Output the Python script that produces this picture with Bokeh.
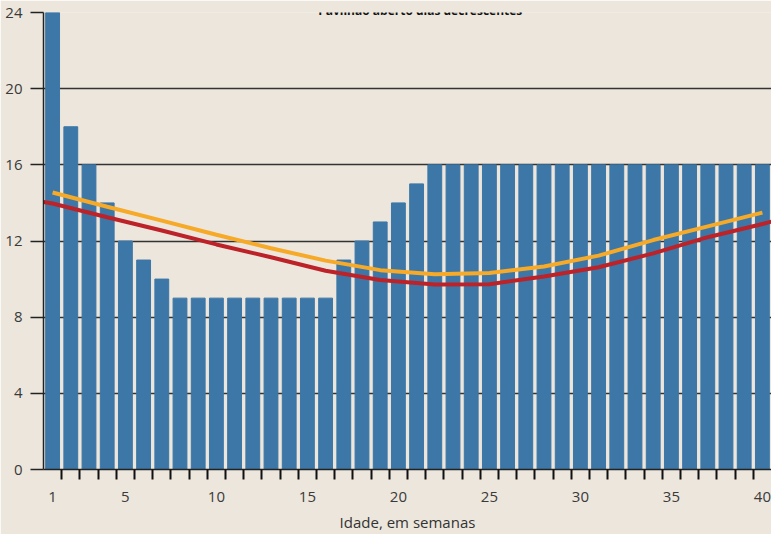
from bokeh.plotting import figure
from bokeh.models import FixedTicker, Label
from bokeh.embed import file_html
from bokeh.resources import INLINE

# ---- data ----
weeks = list(range(1, 41))
birds = [24, 18, 16, 14, 12, 11, 10, 9, 9, 9, 9, 9, 9, 9, 9, 9,
         11, 12, 13, 14, 15, 16, 16, 16, 16, 16, 16, 16, 16, 16,
         16, 16, 16, 16, 16, 16, 16, 16, 16, 16]

orange_x = [1, 4, 7, 10, 13, 16, 19, 22, 25, 28, 31, 34, 37, 40]
orange_y = [14.55, 13.80, 13.07, 12.33, 11.62, 10.97, 10.47, 10.26, 10.32,
            10.66, 11.23, 12.05, 12.77, 13.49]

red_x = [0.5, 1, 4, 7, 10, 13, 16, 19, 22, 25, 28, 31, 34, 37, 40, 40.5]
red_y = [14.05, 13.97, 13.25, 12.55, 11.82, 11.15, 10.44, 9.95, 9.71, 9.73,
         10.14, 10.62, 11.35, 12.20, 12.89, 13.02]

y_ticks = [0, 4, 8, 12, 16, 20, 24]
x_label_ticks = [1, 5, 10, 15, 20, 25, 30, 35, 40]
x_minor_ticks = [w + 0.5 for w in range(1, 40)]

title_text = "Pavilhão aberto dias decrescentes"
x_title = "Idade, em semanas"

BG = "#ECE6DC"
FONT = "Open Sans"

p = figure(width=771, height=534, x_range=(0.5, 40.5), y_range=(0, 24),
           output_backend="svg", toolbar_location=None,
           min_border_left=43, min_border_right=0,
           min_border_top=12, min_border_bottom=59)
p.background_fill_color = BG
p.border_fill_color = BG
p.outline_line_color = None

p.vbar(x=weeks, top=birds, width=0.76, color="#3C77A7")
p.line(orange_x, orange_y, line_color="#F7A928", line_width=4)
p.line(red_x, red_y, line_color="#BC2227", line_width=4)

# grid
p.xgrid.grid_line_color = None
p.ygrid.ticker = FixedTicker(ticks=y_ticks)
p.ygrid.grid_line_color = "#333333"
p.ygrid.grid_line_width = 1.5

# y axis
p.yaxis.ticker = FixedTicker(ticks=y_ticks)
p.yaxis.axis_line_color = "#222222"
p.yaxis.axis_line_width = 1.5
p.yaxis.major_tick_line_color = "#222222"
p.yaxis.major_tick_line_width = 1.5
p.yaxis.major_tick_out = 13
p.yaxis.major_tick_in = 0
p.yaxis.minor_tick_line_color = None
p.yaxis.major_label_standoff = 8
p.yaxis.major_label_text_font = FONT
p.yaxis.major_label_text_font_size = "15px"
p.yaxis.major_label_text_color = "#3a3a3a"

# x axis
p.xaxis.ticker = FixedTicker(ticks=x_label_ticks, minor_ticks=x_minor_ticks)
p.xaxis.axis_line_color = "#222222"
p.xaxis.axis_line_width = 1.5
p.xaxis.major_tick_line_color = None
p.xaxis.major_tick_out = 0
p.xaxis.major_tick_in = 0
p.xaxis.minor_tick_line_color = "#111111"
p.xaxis.minor_tick_line_width = 2
p.xaxis.minor_tick_out = 10
p.xaxis.minor_tick_in = 0
p.xaxis.major_label_standoff = 12
p.xaxis.major_label_text_font = FONT
p.xaxis.major_label_text_font_size = "15px"
p.xaxis.major_label_text_color = "#3a3a3a"
p.xaxis.axis_label = x_title
p.xaxis.axis_label_text_font = FONT
p.xaxis.axis_label_text_font_style = "normal"
p.xaxis.axis_label_text_font_size = "15px"
p.xaxis.axis_label_text_color = "#333333"
p.xaxis.axis_label_standoff = 7

# title, kept fully inside the narrow band above the plot
title = Label(x=21.2, y=24.10, x_units="data", y_units="data", text=title_text,
              text_font=FONT, text_font_style="bold", text_font_size="12px",
              text_color="#111111", text_align="center",
              text_baseline="alphabetic")
p.add_layout(title)

html = file_html(p, INLINE)
html = html.replace("<body>", '<body style="background-color:%s;">' % BG, 1)
open("out.html", "w").write(html)
